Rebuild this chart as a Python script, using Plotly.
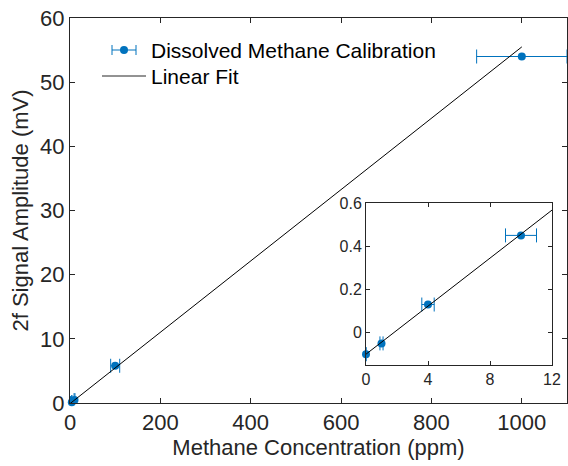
import plotly.graph_objects as go

# Data
conc_ppm = [0, 1, 4, 10, 100, 1000]
amp_mv = [-0.10, -0.05, 0.13, 0.45, 5.8, 54.0]
conc_err = [0, 0.1, 0.4, 1, 10, 100]
fit_slope = 0.0556
fit_intercept = -0.10
fit_x_main = [0, 1000]
fit_x_inset = [0, 12]

x_ticks_main = [0, 200, 400, 600, 800, 1000]
y_ticks_main = [0, 10, 20, 30, 40, 50, 60]
x_ticks_inset = [0, 4, 8, 12]
y_ticks_inset = [0, 0.2, 0.4, 0.6]

BLUE = "#0072BD"
AX = "#262626"
FONT = "Liberation Sans, Arial, sans-serif"

W, H = 568, 466
ML, MR, MT, MB = 70, 1, 18, 63
PW, PH = W - ML - MR, H - MT - MB


def px(xp):
    return (xp - ML) / PW


def py(yp):
    return (H - MB - yp) / PH


fit_y_main = [fit_slope * v + fit_intercept for v in fit_x_main]
fit_y_inset = [fit_slope * v + fit_intercept for v in fit_x_inset]

fig = go.Figure()
err_style = dict(type="data", color=BLUE, thickness=1, width=7)
fig.add_trace(go.Scatter(
    x=conc_ppm, y=amp_mv, mode="markers", name="Dissolved Methane Calibration",
    marker=dict(color=BLUE, size=8),
    error_x=dict(array=conc_err, **err_style),
    cliponaxis=False, xaxis="x", yaxis="y", showlegend=False))
fig.add_trace(go.Scatter(
    x=fit_x_main, y=fit_y_main, mode="lines", name="Linear Fit",
    line=dict(color="black", width=1), xaxis="x", yaxis="y", showlegend=False))
# inset
fig.add_trace(go.Scatter(
    x=conc_ppm[:4], y=amp_mv[:4], mode="markers", showlegend=False,
    marker=dict(color=BLUE, size=8),
    error_x=dict(array=conc_err[:4], **err_style),
    cliponaxis=False, xaxis="x2", yaxis="y2"))
fig.add_trace(go.Scatter(
    x=fit_x_inset, y=fit_y_inset, mode="lines", showlegend=False,
    line=dict(color="black", width=1), xaxis="x2", yaxis="y2"))

# Custom legend (MATLAB style errorbar icon)
leg_rows = [50, 76]
leg_text_x = 149
shapes = [
    dict(type="line", xref="paper", yref="paper", x0=px(112), x1=px(136), y0=py(leg_rows[0]), y1=py(leg_rows[0]),
         line=dict(color=BLUE, width=1)),
    dict(type="line", xref="paper", yref="paper", x0=px(112), x1=px(112), y0=py(leg_rows[0] - 5), y1=py(leg_rows[0] + 5),
         line=dict(color=BLUE, width=1)),
    dict(type="line", xref="paper", yref="paper", x0=px(136), x1=px(136), y0=py(leg_rows[0] - 5), y1=py(leg_rows[0] + 5),
         line=dict(color=BLUE, width=1)),
    dict(type="circle", xref="paper", yref="paper", xsizemode="pixel", ysizemode="pixel",
         xanchor=px(124), yanchor=py(leg_rows[0]), x0=-4, x1=4, y0=-4, y1=4,
         fillcolor=BLUE, line=dict(color=BLUE, width=0)),
    dict(type="line", xref="paper", yref="paper", x0=px(102), x1=px(146), y0=py(leg_rows[1]), y1=py(leg_rows[1]),
         line=dict(color="#262626", width=1)),
]
legend_names = ["Dissolved Methane Calibration", "Linear Fit"]
annotations = [
    dict(text=name, xref="paper", yref="paper", x=px(leg_text_x), y=py(row), xanchor="left", yanchor="middle",
         showarrow=False, font=dict(family=FONT, size=21, color="black"))
    for name, row in zip(legend_names, leg_rows)
]

axis_common = dict(showline=True, linecolor=AX, linewidth=1, mirror="ticks",
                   ticks="inside", ticklen=5, tickcolor=AX, showgrid=False,
                   zeroline=False, automargin=False,
                   tickfont=dict(family=FONT, size=22, color=AX))
inset_common = {**axis_common, "tickfont": dict(family=FONT, size=16, color=AX), "ticklen": 4}

fig.update_layout(
    width=W, height=H,
    margin=dict(l=ML, r=MR, t=MT, b=MB),
    paper_bgcolor="white", plot_bgcolor="white",
    font=dict(family=FONT, color=AX),
    showlegend=False,
    shapes=shapes,
    annotations=annotations,
    xaxis=dict(range=[0, 1100], tickvals=x_ticks_main, domain=[0, 1],
               title=dict(text="Methane Concentration (ppm)", font=dict(size=22, color=AX), standoff=3),
               **axis_common),
    yaxis=dict(range=[0, 60], tickvals=y_ticks_main,
               title=dict(text="2f Signal Amplitude (mV)", font=dict(size=22, color=AX), standoff=5),
               **axis_common),
    xaxis2=dict(range=[0, 12], tickvals=x_ticks_inset, domain=[px(366), px(552)], anchor="y2",
                **inset_common),
    yaxis2=dict(range=[-0.15, 0.6], tickvals=y_ticks_inset, domain=[py(365), py(203)], anchor="x2",
                tickformat=".1~f", **inset_common),
)

fig.write_html("out.html", config={"displayModeBar": False},
               post_script="document.body.style.margin='0';document.body.style.padding='0';")
